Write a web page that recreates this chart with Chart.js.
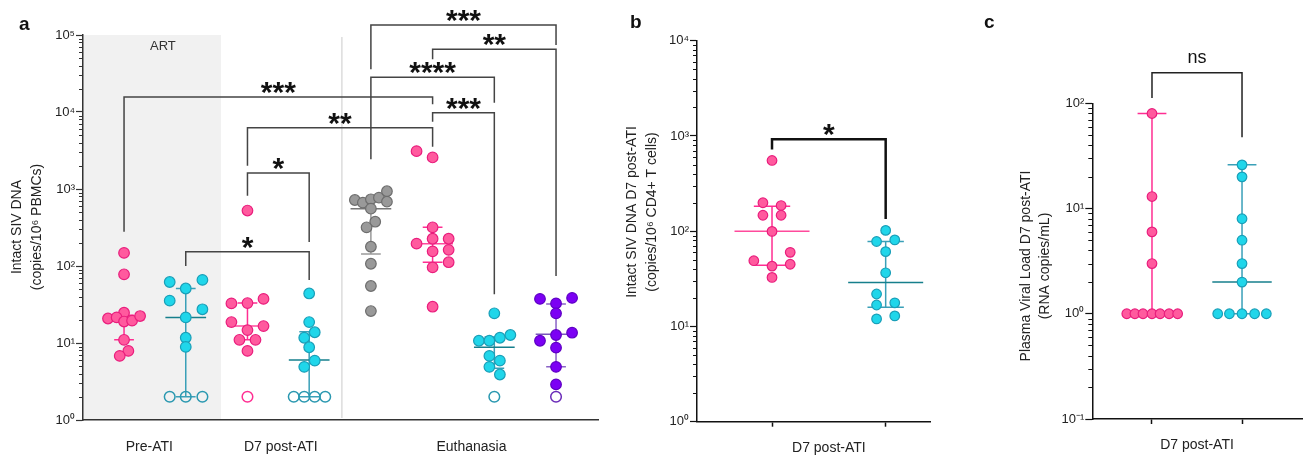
<!DOCTYPE html>
<html>
<head>
<meta charset="utf-8">
<script src="https://cdn.jsdelivr.net/npm/chart.js@4.4.1/dist/chart.umd.min.js"></script>
<style>
  body { margin: 0; background: #fff; font-family: "Liberation Sans", Arial, sans-serif; }
  #wrap { position: relative; width: 1309px; height: 459px; overflow: hidden; }
  canvas { position: absolute; top: 0; }
  .tag { position: absolute; font-weight: bold; font-size: 19px; line-height: 19px; color: #111; }
</style>
</head>
<body>
<div id="wrap">
  <canvas id="chartA" width="610" height="459" style="left:0"></canvas>
  <canvas id="chartB" width="340" height="459" style="left:600px"></canvas>
  <canvas id="chartC" width="329" height="459" style="left:980px"></canvas>
  <div class="tag" style="left:19px;top:14px">a</div>
  <div class="tag" style="left:630px;top:12px">b</div>
  <div class="tag" style="left:984px;top:12px">c</div>
</div>
<script>
// ---------- panel a : intact SIV DNA in PBMCs ----------
const timepointsA = ['Pre-ATI', 'D7 post-ATI', 'Euthanasia'];

const preAtiPink = [148, 78, 24.7, 20.8, 21.5, 19, 19.5, 22.4, 11, 7.9, 6.8];
const preAtiPinkJit = [0, 0, 0, -0.26, -0.12, 0, 0.13, 0.26, 0, 0.07, -0.07];
const preAtiCyan = [62, 51, 66, 35.5, 27.4, 21.5, 11.7, 8.9];
const preAtiCyanJit = [-0.26, 0, 0.27, -0.26, 0.27, 0, 0, 0];
const preAtiCyanBlq = [2, 2, 2];
const preAtiCyanBlqJit = [-0.26, 0, 0.27];

const d7Pink = [525, 32.7, 33, 37.4, 18.7, 16.6, 14.7, 11, 11, 7.9];
const d7PinkJit = [0, -0.26, 0, 0.26, -0.26, 0.26, 0, -0.13, 0.13, 0];
const d7PinkBlq = [2];
const d7PinkBlqJit = [0];
const d7Cyan = [44, 18.7, 13.8, 11.7, 8.8, 5.9, 4.9];
const d7CyanJit = [0, 0, 0.09, -0.08, 0, 0.09, -0.08];
const d7CyanBlq = [2, 2, 2, 2];
const d7CyanBlqJit = [-0.25, -0.08, 0.09, 0.26];

const euthGray = [720, 665, 735, 771, 935, 684, 555, 376, 318, 178, 107, 55, 26];
const euthGrayJit = [-0.26, -0.13, 0, 0.13, 0.26, 0.26, 0, 0.07, -0.07, 0, 0, 0, 0];
const euthPink = [3100, 2570, 318, 226, 226, 195, 155, 162, 112, 96, 29.6];
const euthPinkJit = [-0.26, 0, 0, 0, 0.26, -0.26, 0, 0.26, 0.26, 0, 0];
const euthCyan = [24.3, 10.7, 10.7, 11.7, 12.7, 6.8, 5.9, 4.9, 3.9];
const euthCyanJit = [0, -0.25, -0.08, 0.09, 0.26, -0.08, 0.09, -0.08, 0.09];
const euthCyanBlq = [2];
const euthCyanBlqJit = [0];
const euthPurple = [37.4, 38.5, 32.7, 24.3, 12.7, 13.6, 10.7, 8.7, 4.9, 2.9];
const euthPurpleJit = [-0.26, 0.26, 0, 0, 0, 0.26, -0.26, 0, 0, 0];
const euthPurpleBlq = [2];
const euthPurpleBlqJit = [0];

// median and quartile bars, one per group (8 groups left to right)
const medianA = [20, 21.5, 16.6, 6, 555, 195, 8.8, 13];
const lowerA = [11, 2, 11, 2, 143, 112, 4.7, 4.9];
const upperA = [23, 51, 33, 14, 720, 318, 12, 32];

// [group from, group to, bar level, left leg end, right leg end, label]
const bracketsA = [
  [0, 5, 15700, 279, 12600, '***'],
  [2, 5, 6250, 2000, 3550, '**'],
  [2, 3, 1610, 818, 205, '*'],
  [1, 3, 153, 100, 66, '*'],
  [5, 6, 9800, 7480, 43, '***'],
  [4, 6, 28200, 2430, 13200, '****'],
  [5, 7, 65200, 48300, 74, '**'],
  [4, 7, 135000, 35900, 74000, '***']
];

// ---------- panel b : CD4+ T cells D7 ----------
const pinkB = [553, 199, 186, 147, 147, 99.5, 60, 49, 45, 43, 32.7];
const pinkBJit = [0, -0.08, 0.08, -0.08, 0.08, 0, 0.16, -0.16, 0.16, 0, 0];
const cyanB = [102, 78, 81, 61, 36.6, 21.9, 16.8, 17.7, 12, 12.9];
const cyanBJit = [0, -0.08, 0.08, 0, 0, -0.08, -0.08, 0.08, -0.08, 0.08];
const medianB = [100, 29];
const lowerB = [44, 15.9];
const upperB = [183, 78];
const bracketsB = [[0, 1, 925, 722, 134, '*']];

// ---------- panel c : plasma viral load D7 ----------
const pinkC = [80, 13, 6, 3, 1, 1, 1, 1, 1, 1, 1];
const pinkCJit = [0, 0, 0, 0, -0.28, -0.19, -0.1, 0, 0.09, 0.19, 0.285];
const cyanC = [26, 20, 8, 5, 3, 2, 1, 1, 1, 1, 1];
const cyanCJit = [0, 0, 0, 0, 0, 0, -0.27, -0.14, 0, 0.14, 0.27];
const medianC = [1, 2];
const lowerC = [1, 1];
const upperC = [80, 26];
const bracketsC = [[0, 1, 195, 112, 47.6, 'ns']];

// ---------- styling ----------
const FONT = '"Liberation Sans", Arial, sans-serif';
const PINK = {fill: '#ff5a9e', edge: '#e91e7d', bar: '#ff2e92', med: '#ff4a9c', ring: '#ff2e92'};
const CYAN = {fill: '#20d6ea', edge: '#1a9fb8', bar: '#3aa0b8', med: '#167f8c', ring: '#2a98b0'};
const GRAY = {fill: '#999999', edge: '#6e6e6e', bar: '#9a9a9a', med: '#777777', ring: '#777777'};
const PURPLE = {fill: '#7c00f4', edge: '#5f00c4', bar: '#8a63c6', med: '#7a55bc', ring: '#6a2bb8'};

const SUP = {'0': '\u2070', '1': '\u00b9', '2': '\u00b2', '3': '\u00b3', '4': '\u2074', '5': '\u2075',
  '6': '\u2076', '7': '\u2077', '8': '\u2078', '9': '\u2079', '-': '\u207b'};
function sup(n) { return String(n).split('').map(c => SUP[c]).join(''); }

function dots(cat, vals, jit, col, r) {
  return {
    data: vals.map((v, i) => ({x: cat + jit[i], y: v})),
    pointRadius: r, pointHoverRadius: r,
    backgroundColor: col.fill, borderColor: col.edge, borderWidth: 1.2
  };
}
function ring(cat, vals, jit, col, r) {
  return {
    data: vals.map((v, i) => ({x: cat + jit[i], y: v})),
    pointRadius: r, pointHoverRadius: r,
    backgroundColor: 'rgba(0,0,0,0)', borderColor: col.ring, borderWidth: 1.5
  };
}

// ---------- plugins ----------
const artBand = {
  id: 'artBand',
  beforeDraw(chart, args, o) {
    if (o.to === undefined) return;
    const {ctx, chartArea: ca, scales: {x}} = chart;
    const xe = x.getPixelForValue(o.to);
    ctx.save();
    ctx.fillStyle = '#f1f1f1';
    ctx.fillRect(ca.left, ca.top, xe - ca.left, ca.bottom - ca.top);
    const xd = x.getPixelForValue(o.divider);
    ctx.strokeStyle = '#dcdcdc';
    ctx.lineWidth = 1.5;
    ctx.beginPath();
    ctx.moveTo(xd, ca.top + 2);
    ctx.lineTo(xd, ca.bottom - 2);
    ctx.stroke();
    ctx.fillStyle = '#333';
    ctx.font = '13px ' + FONT;
    ctx.textAlign = 'center';
    ctx.textBaseline = 'middle';
    ctx.fillText(o.label, x.getPixelForValue(o.labelAt), ca.top + 11);
    ctx.restore();
  }
};

const summaryBars = {
  id: 'summaryBars',
  beforeDatasetsDraw(chart, args, o) {
    const {ctx, scales: {x, y}} = chart;
    ctx.save();
    ctx.lineWidth = 1.5;
    o.median.forEach((m, i) => {
      const col = o.colors[i];
      const cx = x.getPixelForValue(i);
      const yl = y.getPixelForValue(o.lower[i]), yu = y.getPixelForValue(o.upper[i]);
      ctx.strokeStyle = col.bar;
      ctx.beginPath();
      ctx.moveTo(cx, yl); ctx.lineTo(cx, yu);
      ctx.moveTo(x.getPixelForValue(i - 0.16), yl); ctx.lineTo(x.getPixelForValue(i + 0.16), yl);
      ctx.moveTo(x.getPixelForValue(i - 0.16), yu); ctx.lineTo(x.getPixelForValue(i + 0.16), yu);
      ctx.stroke();
      const ym = y.getPixelForValue(m);
      ctx.strokeStyle = col.med;
      ctx.beginPath();
      ctx.moveTo(x.getPixelForValue(i - 0.33), ym); ctx.lineTo(x.getPixelForValue(i + 0.33), ym);
      ctx.stroke();
    });
    ctx.restore();
  }
};

const sigBrackets = {
  id: 'sigBrackets',
  afterDatasetsDraw(chart, args, o) {
    const {ctx, scales: {x, y}} = chart;
    ctx.save();
    ctx.strokeStyle = o.color;
    ctx.lineWidth = o.width;
    o.items.forEach(([a, b, bar, endA, endB, label]) => {
      const xa = x.getPixelForValue(a), xb = x.getPixelForValue(b), yb = y.getPixelForValue(bar);
      ctx.beginPath();
      ctx.moveTo(xa, y.getPixelForValue(endA));
      ctx.lineTo(xa, yb);
      ctx.lineTo(xb, yb);
      ctx.lineTo(xb, y.getPixelForValue(endB));
      ctx.stroke();
      ctx.fillStyle = '#111';
      ctx.font = o.font;
      ctx.textAlign = 'center';
      ctx.textBaseline = 'alphabetic';
      ctx.fillText(label, (xa + xb) / 2, yb + o.dy);
    });
    ctx.restore();
  }
};

const yTitle = {
  id: 'yTitle',
  afterDraw(chart, args, o) {
    const ctx = chart.ctx;
    ctx.save();
    ctx.font = '14px ' + FONT;
    ctx.fillStyle = '#222';
    ctx.textAlign = 'center';
    ctx.textBaseline = 'middle';
    o.lines.forEach((t, i) => {
      ctx.save();
      ctx.translate(o.x[i], o.y);
      ctx.rotate(-Math.PI / 2);
      ctx.fillText(t, 0, 0);
      ctx.restore();
    });
    ctx.restore();
  }
};

const minorTicks = {
  id: 'minorTicks',
  afterDraw(chart, args, o) {
    const s = chart.scales.y, ctx = chart.ctx;
    const lo = Math.round(Math.log10(s.min)), hi = Math.round(Math.log10(s.max));
    ctx.save();
    ctx.strokeStyle = o.color;
    ctx.lineWidth = 1;
    ctx.beginPath();
    for (let e = lo; e < hi; e++) {
      for (let k = 2; k < 10; k++) {
        const py = Math.round(s.getPixelForValue(k * Math.pow(10, e))) + 0.5;
        ctx.moveTo(s.right - 4, py);
        ctx.lineTo(s.right, py);
      }
    }
    ctx.stroke();
    ctx.restore();
  }
};

// ---------- chart builder ----------
function panel(id, p) {
  const decades = [];
  for (let e = Math.round(Math.log10(p.yMin)); e <= Math.round(Math.log10(p.yMax)); e++) decades.push(Math.pow(10, e));
  return new Chart(document.getElementById(id), {
    type: 'scatter',
    data: {datasets: p.datasets},
    options: {
      responsive: false, animation: false, devicePixelRatio: 1,
      layout: {padding: {top: p.top, right: p.right, left: 0, bottom: 0}},
      plugins: {
        legend: {display: false},
        tooltip: {enabled: false},
        artBand: p.band || {},
        summaryBars: p.summary,
        sigBrackets: p.brackets,
        yTitle: p.yTitle,
        minorTicks: {color: p.axisColor}
      },
      scales: {
        x: {
          type: 'linear', min: p.xMin, max: p.xMax,
          afterBuildTicks: s => { s.ticks = p.xTicks.map(v => ({value: v})); },
          afterFit: s => { s.height = p.xHeight; },
          ticks: {
            autoSkip: false, maxRotation: 0, minRotation: 0, padding: p.xPad, color: '#222',
            font: {family: FONT, size: 14},
            callback: (v, i) => p.xLabels[i]
          },
          grid: {
            display: true, drawOnChartArea: false, drawTicks: p.xTickLen > 0, tickLength: p.xTickLen || 0,
            tickWidth: 1.5,
            tickColor: c => (c.tick && p.xMarks.includes(c.tick.value)) ? p.axisColor : 'rgba(0,0,0,0)'
          },
          border: {display: true, color: p.axisColor, width: 1.5}
        },
        y: {
          type: 'logarithmic', min: p.yMin, max: p.yMax,
          afterBuildTicks: s => { s.ticks = decades.map(v => ({value: v})); },
          afterFit: s => { s.width = p.yWidth; },
          ticks: {
            autoSkip: false, padding: 1, color: '#222',
            font: {family: FONT, size: 13},
            callback: v => '10' + sup(Math.round(Math.log10(v)))
          },
          grid: {display: true, drawOnChartArea: false, drawTicks: true, tickLength: 7, tickWidth: 1.2, tickColor: p.axisColor},
          border: {display: true, color: p.axisColor, width: 1.5}
        }
      }
    },
    plugins: [artBand, summaryBars, sigBrackets, yTitle, minorTicks]
  });
}

const STARS = 'bold 30px ' + FONT;

panel('chartA', {
  datasets: [
    dots(0, preAtiPink, preAtiPinkJit, PINK, 5.3),
    dots(1, preAtiCyan, preAtiCyanJit, CYAN, 5.3),
    ring(1, preAtiCyanBlq, preAtiCyanBlqJit, CYAN, 5.3),
    dots(2, d7Pink, d7PinkJit, PINK, 5.3),
    ring(2, d7PinkBlq, d7PinkBlqJit, PINK, 5.3),
    dots(3, d7Cyan, d7CyanJit, CYAN, 5.3),
    ring(3, d7CyanBlq, d7CyanBlqJit, CYAN, 5.3),
    dots(4, euthGray, euthGrayJit, GRAY, 5.3),
    dots(5, euthPink, euthPinkJit, PINK, 5.3),
    dots(6, euthCyan, euthCyanJit, CYAN, 5.3),
    ring(6, euthCyanBlq, euthCyanBlqJit, CYAN, 5.3),
    dots(7, euthPurple, euthPurpleJit, PURPLE, 5.3),
    ring(7, euthPurpleBlq, euthPurpleBlqJit, PURPLE, 5.3)
  ],
  xMin: -0.665, xMax: 7.68, yMin: 1, yMax: 1e5,
  top: 35, right: 12, yWidth: 83, xHeight: 39,
  xTicks: [0.41, 2.54, 5.63], xLabels: timepointsA, xMarks: [], xTickLen: 0, xPad: 19,
  axisColor: '#333',
  band: {to: 1.572, divider: 3.53, label: 'ART', labelAt: 0.63},
  summary: {median: medianA, lower: lowerA, upper: upperA,
    colors: [PINK, CYAN, PINK, CYAN, GRAY, PINK, CYAN, PURPLE]},
  brackets: {items: bracketsA, color: '#444', width: 1.5, font: STARS, dy: 5},
  yTitle: {lines: ['Intact SIV DNA', '(copies/10' + sup(6) + ' PBMCs)'], x: [17, 37], y: 227}
});

panel('chartB', {
  datasets: [
    dots(0, pinkB, pinkBJit, PINK, 4.8),
    dots(1, cyanB, cyanBJit, CYAN, 4.8)
  ],
  xMin: -0.66, xMax: 1.39, yMin: 1, yMax: 1e4,
  top: 40.7, right: 10, yWidth: 97, xHeight: 37.3,
  xTicks: [0, 0.5, 1], xLabels: ['', 'D7 post-ATI', ''], xMarks: [0, 1], xTickLen: 5, xPad: 13,
  axisColor: '#111',
  summary: {median: medianB, lower: lowerB, upper: upperB, colors: [PINK, CYAN]},
  brackets: {items: bracketsB, color: '#111', width: 2.5, font: STARS, dy: 5},
  yTitle: {lines: ['Intact SIV DNA D7 post-ATI', '(copies/10' + sup(6) + ' CD4+ T cells)'], x: [31.7, 51.7], y: 212}
});

panel('chartC', {
  datasets: [
    dots(0, pinkC, pinkCJit, PINK, 4.8),
    dots(1, cyanC, cyanCJit, CYAN, 4.8)
  ],
  xMin: -0.663, xMax: 1.674, yMin: 0.1, yMax: 100,
  top: 103.3, right: 6.3, yWidth: 112.3, xHeight: 40,
  xTicks: [0, 0.5, 1], xLabels: ['', 'D7 post-ATI', ''], xMarks: [0, 1], xTickLen: 5, xPad: 13,
  axisColor: '#111',
  summary: {median: medianC, lower: lowerC, upper: upperC, colors: [PINK, CYAN]},
  brackets: {items: bracketsC, color: '#222', width: 1.5, font: '18px ' + FONT, dy: -10},
  yTitle: {lines: ['Plasma Viral Load D7 post-ATI', '(RNA copies/mL)'], x: [46, 65], y: 266}
});
</script>
</body>
</html>
